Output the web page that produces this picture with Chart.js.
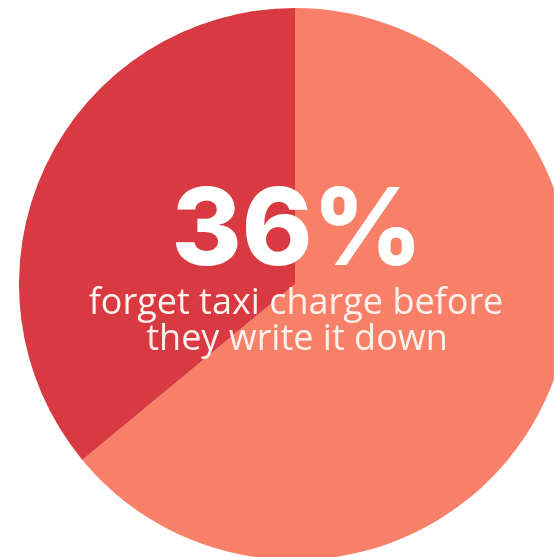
<!DOCTYPE html>
<html>
<head>
<meta charset="utf-8">
<script src="https://cdn.jsdelivr.net/npm/chart.js@4"></script>
<style>
  html, body { margin:0; padding:0; width:554px; height:557px; overflow:hidden; background:#ffffff; }
  #wrap { position:absolute; left:19px; top:8px; width:552px; height:552px; }
</style>
</head>
<body>
<div id="wrap"><canvas id="c" width="552" height="552"></canvas></div>
<script>
const categories = ["Remember", "Forget taxi charge before writing it down"];
const values = [64, 36];
const colors = ["#f88069", "#d93a42"];
const headline = "36%";
const captionLines = ["forget taxi charge before", "they write it down"];

const centerText = {
  id: 'centerText',
  afterDraw(chart) {
    const ctx = chart.ctx;
    const meta = chart.getDatasetMeta(0);
    const arc = meta.data[0];
    const cx = arc.x, cy = arc.y;
    ctx.save();
    ctx.textAlign = 'center';
    ctx.textBaseline = 'alphabetic';
    ctx.fillStyle = '#ffffff';
    ctx.font = '800 107px Inter, "Open Sans", sans-serif';
    ctx.fillText(headline, cx + 2, cy - 19);
    ctx.fillStyle = '#fdf1ed';
    ctx.font = '36px "Open Sans", sans-serif';
    ctx.fillText(captionLines[0], cx + 1, cy + 30);
    ctx.fillText(captionLines[1], cx + 2, cy + 66);
    ctx.restore();
  }
};

new Chart(document.getElementById('c'), {
  type: 'pie',
  data: {
    labels: categories,
    datasets: [{
      data: values,
      backgroundColor: colors,
      borderWidth: 0
    }]
  },
  options: {
    responsive: false,
    animation: false,
    layout: { padding: 0 },
    plugins: {
      legend: { display: false },
      tooltip: { enabled: false }
    }
  },
  plugins: [centerText]
});
</script>
</body>
</html>
